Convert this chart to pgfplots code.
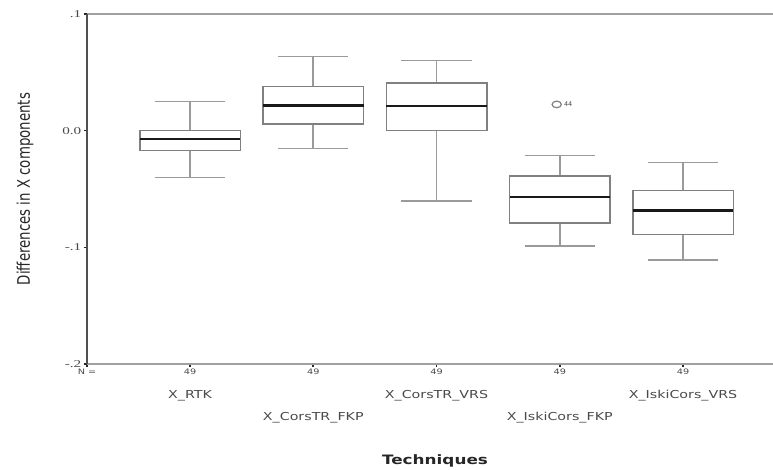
\documentclass[border=0pt]{standalone}
\usepackage{fontspec}
\setmainfont{DejaVu Sans}
\newfontfamily\tickfont{Liberation Serif}
\usepackage{graphicx}
\usepackage{pgfplots}
\pgfplotsset{compat=1.18}
\usepgfplotslibrary{statistics}
\definecolor{axgray}{HTML}{A0A0A0}
\definecolor{spine}{HTML}{505050}
\definecolor{boxgray}{HTML}{808080}
\definecolor{whisk}{HTML}{9A9A9A}
\definecolor{txt}{HTML}{4A4A4A}
\newcommand{\hs}[1]{\scalebox{1.3}[1]{#1}}
\newcommand{\hy}[1]{\scalebox{1.45}[1]{#1}}
\newcommand{\cat}[1]{\hs{\fontsize{11}{11}\selectfont #1}}
\begin{document}
\begin{tikzpicture}
\useasboundingbox (0,0) rectangle (773bp,470bp);
\begin{axis}[
  at={(87bp,106bp)}, anchor=south west,
  scale only axis, width=686bp, height=350bp,
  xmin=0.164, xmax=5.730, ymin=-0.2, ymax=0.1,
  axis line style={draw=none},
  clip=false,
  xtick={0.164,1,2,3,4,5},
  xticklabels={\hs{N =},\hs{49},\hs{49},\hs{49},\hs{49},\hs{49}},
  ytick={-0.2,-0.1,0,0.1},
  yticklabels={\hy{-.2},\hy{-.1},\hy{0.0},\hy{.1}},
  xtick pos=bottom, ytick pos=left,
  tick align=outside,
  major tick length=3bp,
  tick style={draw=black!85, line width=1.6bp},
  x tick label style={font=\fontsize{7.5}{7.5}\selectfont, text=txt, inner sep=1.5bp},
  y tick label style={font=\tickfont\fontsize{10.5}{10.5}\selectfont, text=txt, inner sep=2.5bp},
  boxplot/draw direction=y,
  boxplot/box extend=0.815,
  boxplot/whisker extend=0.57,
  boxplot/every box/.style={draw=boxgray, line width=1.5bp, fill=white},
  boxplot/every whisker/.style={draw=whisk, line width=1.6bp},
  boxplot/every median/.style={draw=black!90, line width=2.6bp},
]
\addplot+[draw=boxgray, mark=none, solid, line width=1.5bp, boxplot prepared={lower whisker=-0.0403, lower quartile=-0.0169, median=-0.0072, upper quartile=0.0000, upper whisker=0.0250, draw position=1}] coordinates {};
\addplot+[draw=boxgray, mark=none, solid, line width=1.5bp, boxplot prepared={lower whisker=-0.0154, lower quartile=0.0057, median=0.0217, upper quartile=0.0380, upper whisker=0.0637, draw position=2}] coordinates {};
\addplot+[draw=boxgray, mark=none, solid, line width=1.5bp, boxplot prepared={lower whisker=-0.0603, lower quartile=0.0003, median=0.0211, upper quartile=0.0408, upper whisker=0.0602, draw position=3}] coordinates {};
\addplot+[draw=boxgray, mark=none, solid, line width=1.5bp, boxplot prepared={lower whisker=-0.0991, lower quartile=-0.0792, median=-0.0569, upper quartile=-0.0389, upper whisker=-0.0212, draw position=4}] coordinates {};
\addplot+[draw=boxgray, mark=none, solid, line width=1.5bp, boxplot prepared={lower whisker=-0.1111, lower quartile=-0.0889, median=-0.0686, upper quartile=-0.0512, upper whisker=-0.0274, draw position=5}] coordinates {};
\addplot[only marks, mark=o, mark size=3.3bp,
  mark options={draw=boxgray, line width=1.2bp, xscale=1.4},
  nodes near coords={44},
  every node near coord/.append style={anchor=west, xshift=3.5bp, font=\fontsize{6.5}{6.5}\selectfont, text=txt}]
  coordinates {(3.975,0.0225)};
\draw[axgray, line width=2bp] (rel axis cs:0,1) -- (rel axis cs:1,1);
\draw[axgray, line width=2bp] (rel axis cs:0,0) -- (rel axis cs:1,0);
\draw[spine, line width=1.6bp] (rel axis cs:0,0) -- (rel axis cs:0,1);
\node[text=txt] at (axis cs:1,-0.2) [yshift=-32bp] {\cat{X\_RTK}};
\node[text=txt] at (axis cs:2,-0.2) [yshift=-54bp] {\cat{X\_CorsTR\_FKP}};
\node[text=txt] at (axis cs:3,-0.2) [yshift=-32bp] {\cat{X\_CorsTR\_VRS}};
\node[text=txt] at (axis cs:4,-0.2) [yshift=-54bp] {\cat{X\_IskiCors\_FKP}};
\node[text=txt] at (axis cs:5,-0.2) [yshift=-32bp] {\cat{X\_IskiCors\_VRS}};
\end{axis}
\node[rotate=90, text=black!85] at (25bp,281bp) {\scalebox{1}[1.3]{\resizebox{192bp}{!}{\fontsize{12}{12}\selectfont Differences in X components}}};
\node[text=black!85] at (435bp,9bp) {\scalebox{1.3}[1]{\fontsize{13}{13}\selectfont\bfseries Techniques}};
\end{tikzpicture}
\end{document}
